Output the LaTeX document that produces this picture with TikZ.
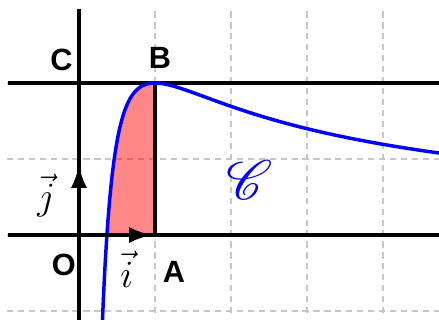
\documentclass[tikz,border=0pt]{standalone}
\usepackage{mathrsfs}
\usepackage{fontspec}
\setsansfont{Liberation Sans}
\usetikzlibrary{arrows.meta}
\tikzset{
  gridline/.style={draw=black!22, line width=0.8pt, dash pattern=on 2.3pt off 1.8pt},
  axisline/.style={draw=black, line width=1.35pt},
  curveline/.style={draw=blue, line width=1.3pt},
  vecarrow/.style={draw=black, line width=1.35pt, -{Latex[length=8.5pt,width=6pt]}},
  lab/.style={font=\fontsize{11.5}{13}\selectfont\sffamily\bfseries, inner sep=0pt},
  veclab/.style={font=\fontsize{15}{17}\selectfont, inner sep=0pt},
}
\begin{document}
\begin{tikzpicture}[x=1cm,y=1cm]
\useasboundingbox (-1.039,-1.118) rectangle (4.737,3.092);
\clip (-1.039,-1.118) rectangle (4.737,3.092);
% grid
\draw[gridline] (-0.95,-1.03) grid (4.8,2.97);
% shaded area
\fill[red, fill opacity=0.47] plot[domain=0.367879:1, samples=80, smooth] (\x,{2*(1+ln(\x))/\x}) -- (1,0) -- cycle;
% named points
\coordinate (O) at (0,0);
\coordinate (A) at (1,0);
\coordinate (B) at (1,2);
\coordinate (C) at (0,2);
\coordinate (xl) at (-0.93,0);
\coordinate (xr) at (4.8,0);
\coordinate (yb) at (0,-1.2);
\coordinate (yt) at (0,2.97);
\coordinate (hl) at (-0.93,2);
\coordinate (hr) at (4.8,2);
\coordinate (itip) at (0.96,0);
\coordinate (jtip) at (0,0.92);
% lines
\draw[axisline] (xl) -- (xr);
\draw[axisline] (yb) -- (yt);
\draw[axisline] (hl) -- (hr);
\draw[axisline] (A) -- (B);
% curve
\draw[curveline] plot[domain=0.3:1, samples=150, smooth] (\x,{2*(1+ln(\x))/\x});
\draw[curveline] plot[domain=1:4.8, samples=100, smooth] (\x,{2*(1+ln(\x))/\x});
% vectors
\draw[vecarrow] (O) -- (itip);
\draw[vecarrow] (O) -- (jtip);
% labels
\node[lab] (lC) at (-0.23,2.30) {C};
\node[lab] (lB) at (1.066,2.335) {B};
\node[lab] (lO) at (-0.2,-0.39) {O};
\node[lab] (lA) at (1.25,-0.49) {A};
\node[veclab] (li) at (0.63,-0.45) {$\vec{i}$};
\node[veclab] (lj) at (-0.43,0.52) {$\vec{j}$};
\node[text=blue, font=\fontsize{22}{24}\selectfont, inner sep=0pt] (lcurve) at (2.25,0.72) {$\mathscr{C}$};
\end{tikzpicture}
\end{document}
